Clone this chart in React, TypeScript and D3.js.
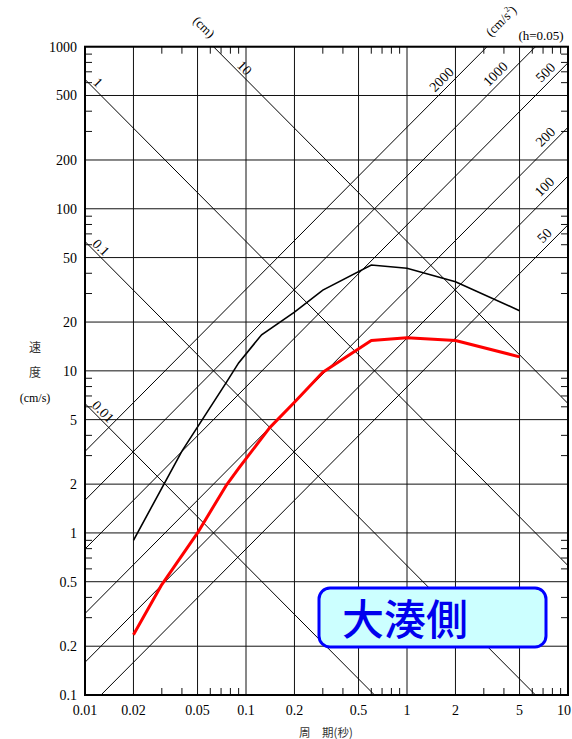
import React from "react";
import * as d3 from "d3";

// ---- data ----
const xTicks = [0.01, 0.02, 0.05, 0.1, 0.2, 0.5, 1, 2, 5, 10];
const xTickLabels = ["0.01", "0.02", "0.05", "0.1", "0.2", "0.5", "1", "2", "5", "10"];
const yTicks = [0.1, 0.2, 0.5, 1, 2, 5, 10, 20, 50, 100, 200, 500, 1000];
const yTickLabels = ["0.1", "0.2", "0.5", "1", "2", "5", "10", "20", "50", "100", "200", "500", "1000"];
const minorMult = [3, 4, 6, 7, 8, 9];
const dispLines = [0.01, 0.1, 1, 10]; // cm
const dispLabels = ["0.01", "0.1", "1", "10"];
const accLines = [50, 100, 200, 500, 1000, 2000]; // cm/s^2
const accLabels = ["50", "100", "200", "500", "1000", "2000"];

const blackT = [0.02, 0.04, 0.075, 0.09, 0.125, 0.2, 0.3, 0.6, 1, 2, 5];
const blackV = [0.9, 3.2, 8.4, 11.2, 16.7, 23, 31.5, 45, 43, 35.5, 23.5];
const redT = [0.02, 0.03, 0.05, 0.075, 0.09, 0.14, 0.2, 0.3, 0.6, 1, 2, 5];
const redV = [0.235, 0.48, 1.0, 1.95, 2.5, 4.45, 6.4, 9.8, 15.4, 16, 15.4, 12.2];

const W = 572, H = 739;
const L = 85, R = 568, T = 46.7, B = 695;

export default function App() {
  const x = d3.scaleLog().domain([0.01, 10]).range([L, R]);
  const y = d3.scaleLog().domain([0.1, 1000]).range([B, T]);
  const serif = "'Liberation Serif', 'Times New Roman', serif";
  const cjk = "'Noto Sans CJK JP', sans-serif";
  const TWO_PI = 2 * Math.PI;

  const minorX: number[] = [];
  [0.01, 0.1, 1].forEach((d) => minorMult.forEach((m) => minorX.push(d * m)));
  const minorY: number[] = [];
  [0.1, 1, 10, 100].forEach((d) => minorMult.forEach((m) => minorY.push(d * m)));

  const line = d3
    .line<[number, number]>()
    .x((d) => x(d[0]))
    .y((d) => y(d[1]));

  const blackPts: [number, number][] = blackT.map((t, i) => [t, blackV[i]]);
  const redPts: [number, number][] = redT.map((t, i) => [t, redV[i]]);

  const sdPath = (sd: number) => line([[0.001, (TWO_PI * sd) / 0.001], [100, (TWO_PI * sd) / 100]]);
  const saPath = (sa: number) => line([[0.001, (sa * 0.001) / TWO_PI], [100, (sa * 100) / TWO_PI]]);

  const sdAlong = [17, 15, 12, 30];
  const sdLabelPos = (sd: number, i: number) => {
    const vLeft = (TWO_PI * sd) / 0.01;
    const ex = vLeft <= 1000 ? L : x((TWO_PI * sd) / 1000);
    const px = ex + sdAlong[i];
    const py = y((TWO_PI * sd) / x.invert(px));
    return [px, py - 8];
  };
  const saLabelX = [551, 551, 552, 552, 502, 448];
  const saLabelPos = (sa: number, i: number) => {
    const px = saLabelX[i];
    const py = y((sa * x.invert(px)) / TWO_PI);
    return [px - 5.5, py - 5.5];
  };

  const serifStyle = { fontFamily: serif };
  const cjkStyle = { fontFamily: cjk };

  return (
    <svg
      width={W}
      height={H}
      style={{ position: "absolute", left: 0, top: 0, background: "#fff", fontFamily: serif }}
    >
      <defs>
        <clipPath id="plot">
          <rect x={L} y={T} width={R - L} height={B - T} />
        </clipPath>
      </defs>
      <rect x={0} y={0} width={W} height={H} fill="#fff" />

      {xTicks.map((t) => (
        <line key={"gx" + t} x1={x(t)} x2={x(t)} y1={T} y2={B} stroke="#111" strokeWidth={1} />
      ))}
      {yTicks.map((t) => (
        <line key={"gy" + t} x1={L} x2={R} y1={y(t)} y2={y(t)} stroke="#111" strokeWidth={1} />
      ))}
      {minorX.map((t) => (
        <g key={"mx" + t}>
          <line x1={x(t)} x2={x(t)} y1={T} y2={T + 7} stroke="#111" />
          <line x1={x(t)} x2={x(t)} y1={B} y2={B - 7} stroke="#111" />
        </g>
      ))}
      {minorY.map((t) => (
        <g key={"my" + t}>
          <line x1={L} x2={L + 7} y1={y(t)} y2={y(t)} stroke="#111" />
          <line x1={R} x2={R - 7} y1={y(t)} y2={y(t)} stroke="#111" />
        </g>
      ))}

      <g clipPath="url(#plot)">
        {dispLines.map((sd) => (
          <path key={"sd" + sd} d={sdPath(sd) || ""} stroke="#000" strokeWidth={1} fill="none" />
        ))}
        {accLines.map((sa) => (
          <path key={"sa" + sa} d={saPath(sa) || ""} stroke="#000" strokeWidth={1} fill="none" />
        ))}
      </g>

      <rect x={L} y={T} width={R - L} height={B - T} fill="none" stroke="#000" strokeWidth={2} />

      <g clipPath="url(#plot)">
        <path d={line(blackPts) || ""} stroke="#000" strokeWidth={1.6} fill="none" />
        <path d={line(redPts) || ""} stroke="#ff0000" strokeWidth={3} fill="none" strokeLinejoin="round" />
      </g>

      {dispLines.map((sd, i) => {
        const [px, py] = sdLabelPos(sd, i);
        return (
          <text
            key={"sdl" + sd}
            x={px}
            y={py}
            fontSize={14}
            textAnchor="middle"
            dominantBaseline="middle"
            style={serifStyle}
            transform={`rotate(45 ${px} ${py})`}
          >
            {dispLabels[i]}
          </text>
        );
      })}
      {accLines.map((sa, i) => {
        const [px, py] = saLabelPos(sa, i);
        return (
          <text
            key={"sal" + sa}
            x={px}
            y={py}
            fontSize={14}
            textAnchor="middle"
            dominantBaseline="middle"
            style={serifStyle}
            transform={`rotate(-45 ${px} ${py})`}
          >
            {accLabels[i]}
          </text>
        );
      })}
      <text x={203} y={28} fontSize={13} textAnchor="middle" dominantBaseline="middle" style={serifStyle} transform="rotate(45 203 28)">
        (cm)
      </text>
      <text x={502} y={22} fontSize={13} textAnchor="middle" dominantBaseline="middle" style={serifStyle} transform="rotate(-45 502 22)">
        (cm/s<tspan fontSize={8} dy={-5}>2</tspan><tspan dy={5}>)</tspan>
      </text>
      <text x={541} y={40} fontSize={13} textAnchor="middle" style={serifStyle}>
        (h=0.05)
      </text>

      {xTicks.map((t, i) => (
        <text
          key={"xl" + t}
          x={i === xTicks.length - 1 ? 571 : x(t)}
          y={715}
          fontSize={14}
          textAnchor={i === xTicks.length - 1 ? "end" : "middle"}
          style={serifStyle}
        >
          {xTickLabels[i]}
        </text>
      ))}
      {yTicks.map((t, i) => (
        <text key={"yl" + t} x={77} y={y(t) + 5} fontSize={14} textAnchor="end" style={serifStyle}>
          {yTickLabels[i]}
        </text>
      ))}

      <text x={35} y={352} fontSize={12} textAnchor="middle" style={cjkStyle} fill="#333">
        速
      </text>
      <text x={35} y={377} fontSize={12} textAnchor="middle" style={cjkStyle} fill="#333">
        度
      </text>
      <text x={35} y={402} fontSize={12} textAnchor="middle" style={serifStyle}>
        (cm/s)
      </text>
      <text x={326} y={737} fontSize={11.5} textAnchor="middle" style={cjkStyle} fill="#333">
        周　期(秒)
      </text>

      <rect x={319} y={588} width={227} height={59} rx={11} ry={11} fill="#ccffff" stroke="#0000ff" strokeWidth={3} />
      <text x={342} y={635} fontSize={42} fill="#0000ee" style={cjkStyle} fontWeight={500}>
        大湊側
      </text>
    </svg>
  );
}
